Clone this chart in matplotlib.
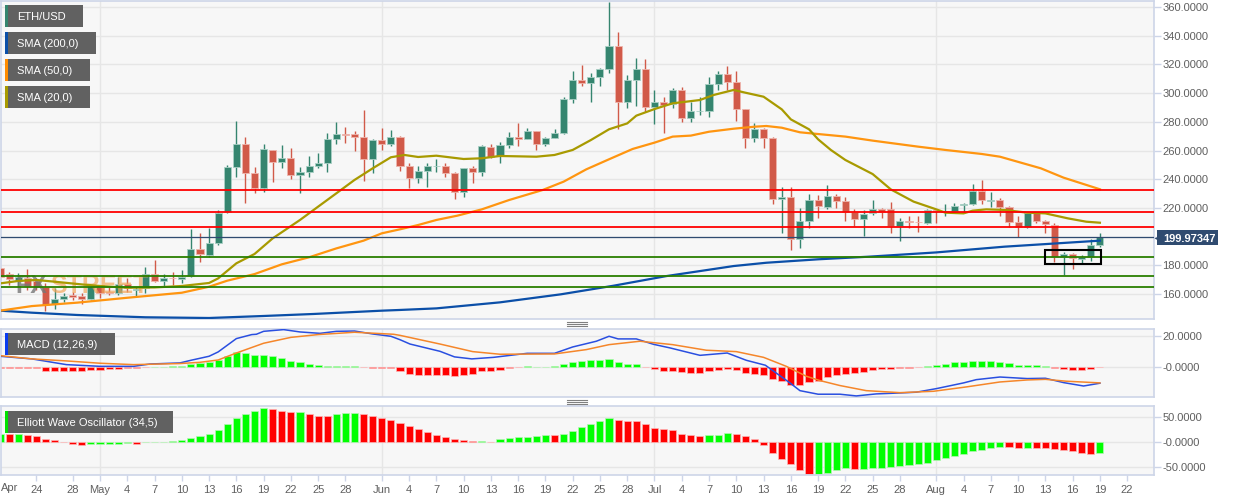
import numpy as np
import matplotlib
matplotlib.use('Agg')
import matplotlib.pyplot as plt
from matplotlib.patches import Rectangle
from matplotlib.lines import Line2D

plt.rcParams['font.family'] = ['Liberation Sans', 'DejaVu Sans']

W = 1244
H = 501

# day 0 = 1 May
first_day = -11

opens = [177.9,173.9,169.3,170.9,169.3,165.1,153.0,156.3,159.3,158.6,
         156.3,164.7,161.6,160.9,167.0,162.8,163.9,173.9,169.1,171.4,
         170.7,172.6,191.1,187.2,195.3,217.4,248.7,264.3,244.6,233.6,
         260.4,251.8,254.6,243.2,245.3,249.4,251.3,268.3,271.7,271.3,
         269.4,254.1,267.1,264.5,269.4,249.2,241.1,245.9,249.0,249.2,
         244.1,231.3,247.6,245.0,262.5,256.2,263.6,269.2,268.3,273.8,
         264.3,268.7,272.0,295.9,309.1,307.3,311.0,316.6,332.6,294.0,
         309.1,317.0,290.1,294.0,292.2,302.0,282.9,287.3,287.8,306.4,
         313.3,307.8,288.7,268.5,275.0,268.5,226.0,227.6,198.6,211.1,
         225.5,220.9,228.3,225.0,217.4,212.0,216.2,219.0,219.0,207.4,
         211.1,210.4,209.7,218.5,217.4,217.9,222.0,222.5,232.0,225.0,
         225.5,220.4,210.0,206.5,216.2,210.9,208.1,186.0,187.6,184.6,
         186.0,194.2]
highs = [179.0,175.6,174.4,177.2,170.9,167.4,164.0,160.9,161.6,160.5,
         166.3,166.3,165.1,171.6,170.9,165.1,178.6,183.7,173.9,175.6,
         176.7,205.1,202.3,206.2,218.5,249.9,280.6,269.2,248.3,264.3,
         260.4,263.9,261.5,248.3,256.2,258.5,272.0,279.6,276.6,273.8,
         288.2,267.8,275.5,274.3,270.1,251.1,249.2,251.1,253.9,251.1,
         245.3,248.0,249.2,263.6,264.3,265.7,273.1,278.9,275.5,273.8,
         269.2,274.8,297.1,315.4,319.4,313.8,317.3,363.3,342.4,312.4,
         324.2,323.6,302.2,297.1,303.3,304.0,294.0,297.5,311.0,315.4,
         318.9,315.2,288.7,278.9,275.5,269.2,234.8,234.3,219.7,229.5,
         229.0,236.0,229.5,227.8,219.0,218.5,225.5,219.7,223.9,212.7,
         214.6,214.6,219.0,219.0,222.7,223.2,223.6,236.7,239.5,230.9,
         226.7,221.3,214.6,216.7,216.9,211.6,209.3,189.5,188.3,187.2,
         198.3,202.3]
lows = [169.8,166.3,165.1,162.8,162.8,148.2,149.3,154.7,155.8,153.0,
        155.8,157.0,159.3,159.3,161.6,158.2,160.5,168.6,165.6,166.3,
        167.9,172.1,182.5,186.0,194.2,216.2,241.8,223.7,230.6,231.3,
        238.3,247.6,239.9,230.6,241.8,248.0,245.3,264.3,265.0,259.9,
        239.0,244.6,260.4,263.2,245.9,233.6,237.6,234.8,245.3,241.3,
        226.0,227.4,237.1,242.5,254.6,251.5,261.5,263.4,267.8,260.6,
        263.4,268.7,271.5,293.4,305.2,294.0,305.2,313.8,274.8,289.9,
        291.0,286.6,278.2,272.0,289.4,280.1,280.1,285.0,283.6,302.2,
        302.2,280.8,261.5,266.2,261.5,222.5,202.3,190.7,191.8,205.8,
        212.7,219.2,219.7,211.1,207.4,200.7,215.1,212.7,202.3,197.2,
        205.8,203.5,208.8,209.7,214.6,217.2,216.2,222.0,222.5,220.4,
        214.6,206.9,200.0,205.8,209.3,202.7,182.5,173.0,177.7,181.4,
        183.0,192.5]
closes = [172.1,170.2,172.1,165.6,165.1,152.3,156.3,158.6,157.7,156.3,
          165.6,161.0,160.7,167.0,164.0,163.7,173.9,169.1,171.2,170.9,
          172.1,191.1,187.9,195.3,216.7,248.7,264.3,244.6,233.6,260.8,
          251.8,254.6,243.2,245.3,249.4,251.3,268.3,271.5,271.0,269.4,
          254.1,267.1,264.5,269.2,249.4,240.9,245.7,249.2,249.4,244.3,
          231.3,247.6,245.0,263.2,255.7,263.6,269.2,268.3,273.8,264.3,
          268.7,272.0,295.9,309.1,307.3,311.0,316.6,332.6,294.0,309.1,
          317.0,290.1,294.0,291.7,302.0,282.9,287.5,287.8,306.4,313.3,
          308.0,288.7,268.5,275.0,268.5,226.0,227.6,198.6,210.9,225.5,
          221.3,228.3,225.0,217.4,212.0,215.8,219.0,217.4,207.4,210.9,
          210.4,210.0,218.5,217.9,218.1,221.6,222.7,232.0,225.5,225.5,
          220.4,210.0,206.5,216.2,211.1,208.8,186.0,187.6,184.9,185.6,
          194.2,199.97]

sma20_days = [-11,-9,-7,-5,-2,0,3,6,9,12,13,15,17,19,22,24,26.5,28,30,32,33.5,35,37,40,42,44,48,50,52,54,56,58,59,61,63,66,67.5,69.7,71,73,75,76,78,79,80.4,82,85,87,89.5,92,93,95,96,97.5,99.5,102,104,106.5,108.5,110]
sma20 = [167.4,169.1,169.8,168.6,166.7,165.6,164.4,164.6,165.6,167.7,170.9,181.4,187.9,198.8,211.6,220.9,232.5,239.5,247.6,255.3,256.9,255.5,256.4,254.1,254.6,256.2,255.7,256.9,260.4,267.3,274.8,278.9,284.3,288.9,292.9,295.2,298.7,302.2,300.3,297.5,288.7,281.7,274.8,267.8,260.4,253.4,243.6,232.9,224.4,219.0,216.7,216.2,218.1,219.0,218.6,216.7,216.2,212.7,210.4,209.7]

sma50_days = [-11,-7.5,-2.5,3,9,12,14,17,20,23,26,29,31,33,35,37,39.3,42,45,48.7,51,53.5,56,58.6,61,63,65,67,69.7,72,73.3,75,77,79,82,85,90,93,97,99,103.5,106,110]
sma50 = [148.4,151.6,154.0,157.4,160.9,165.1,169.3,173.9,180.7,185.6,191.8,197.2,202.3,205.1,208.1,211.6,214.6,219.0,225.5,232.5,238.3,246.9,253.9,261.1,265.5,269.7,270.4,273.1,275.2,276.6,277.1,275.9,272.7,271.5,269.7,266.9,262.7,260.4,257.6,255.7,247.6,241.1,233.0]

sma200_days = [-11,-7.5,-2.5,5,12,18,23.5,31,33,37,44,50.7,56.5,62.3,69.7,73.3,79,84.5,92,99.5,110]
sma200 = [148.4,147.0,145.4,143.8,143.3,144.7,146.1,148.4,148.9,150.0,154.2,159.8,165.8,172.5,179.5,181.8,184.2,186.0,189.0,193.0,197.2]

resistance = [232.5, 217.4, 206.7]
support = [185.8, 172.6, 164.9]
last_price = 199.97347

macd_hist = [-0.5,-0.6,-0.6,-0.7,-1.0,-2.5,-2.9,-2.9,-2.9,-2.9,
             -2.2,-1.7,-1.5,-1.2,-0.9,-0.7,-0.3,0.1,0.2,0.4,
             0.6,2.0,2.6,3.0,4.7,7.3,9.7,9.2,7.5,8.0,
             6.9,5.8,4.1,3.0,1.9,1.1,0.8,0.9,0.9,0.5,
             -0.2,-0.5,-0.8,-1.0,-2.8,-4.3,-4.9,-4.9,-4.9,-4.9,
             -6.0,-4.9,-4.5,-2.8,-2.4,-1.7,-0.9,-0.2,0.9,0.1,
             0.2,0.3,1.9,3.4,4.1,4.5,4.7,5.4,3.0,2.1,
             1.9,-0.3,-1.5,-2.4,-2.4,-3.4,-3.9,-4.1,-2.8,-1.7,
             -1.3,-2.1,-4.1,-4.5,-4.9,-8.0,-9.2,-11.4,-11.4,-9.9,
             -8.8,-6.7,-5.4,-4.5,-3.9,-3.0,-1.9,-1.3,-1.1,-0.9,
             -0.4,-0.1,0.6,1.5,2.1,3.0,3.2,4.1,4.1,4.1,
             3.4,2.4,1.5,1.5,1.3,0.9,-0.4,-1.1,-1.7,-1.7,
             -1.1,-0.2]

macd_days = [-11,-7.5,-3.7,0,3.7,5.5,8.8,10,12,13,15,16.7,17.2,18,20.2,22,24.2,26,28,30,32,33,34.1,37.4,39,40.9,43.3,47,50,52,54.6,56,57,59,60.9,62.7,66,69,71.1,73.2,75.9,77,79,81.4,83.2,85.4,88,89.8,92,95,96.4,99,102,104,106,108.2,110]
macd_line = [6.9,5.2,1.5,0.4,0.4,1.9,2.6,4.3,6.9,9.7,18.3,20.9,21.1,23.0,24.1,22.6,21.7,23.0,23.2,21.3,19.8,17.6,14.8,10.1,6.5,5.2,6.2,8.8,8.8,12.9,16.6,19.8,18.1,18.1,14.6,12.3,7.5,9.0,4.3,1.1,-10.3,-15.3,-17.6,-17.6,-18.7,-17.4,-16.8,-16.3,-14.0,-10.3,-8.2,-6.5,-7.5,-7.3,-10.1,-12.3,-10.5]

signal_days = [-11,-7.5,-3.7,0,3.7,8.8,11,13,15,18,21,24,28,32.3,33,37.4,41,44,50,53.5,56,59.4,63,66.7,70,73,75.5,77.7,79.2,81.4,84.3,88,91.7,95.3,99,102,104,106.3,110]
signal_line = [7.3,5.2,3.9,2.4,1.5,2.2,3.0,4.5,9.0,15.3,19.1,20.9,22.4,21.1,20.4,14.8,9.9,8.2,8.4,11.2,14.4,16.6,14.4,10.8,9.9,6.2,0.4,-6.0,-8.8,-12.0,-15.3,-16.6,-15.7,-12.9,-9.7,-8.4,-8.0,-9.2,-10.3]

ewo = [16.7,16.6,16.7,14.7,12.0,7.3,4.0,0.2,-2.7,-5.3,
       -3.3,-3.3,-3.0,-2.7,-2.0,-2.7,0.2,0.7,1.3,2.0,
       4.7,8.7,12.0,16.0,24.0,36.7,48.7,57.4,63.4,68.7,
       66.7,62.7,60.0,60.7,56.0,53.4,53.3,56.0,58.0,58.7,
       56.0,52.7,48.7,44.7,38.0,32.7,26.7,20.7,14.7,10.7,
       7.3,5.3,2.0,2.2,1.5,6.0,8.0,10.7,11.3,12.7,
       14.0,13.9,16.7,22.7,30.0,36.7,43.4,48.0,44.0,42.7,
       42.6,36.7,28.7,26.7,24.0,16.7,15.3,13.3,14.7,14.7,
       18.0,17.3,12.7,6.0,-4.7,-20.7,-32.7,-44.0,-56.0,-63.4,
       -62.7,-60.7,-54.7,-51.4,-52.7,-52.7,-52.0,-50.7,-49.4,-46.7,
       -44.7,-43.4,-41.4,-36.0,-32.0,-27.4,-22.7,-18.0,-14.7,-10.7,
       -9.3,-9.4,-12.0,-11.3,-11.4,-11.5,-13.3,-14.7,-18.0,-22.0,
       -24.0,-21.3]

tick_days = [-7,-3,0,3,6,9,12,15,18,21,24,27,31,34,37,40,43,46,49,52,55,58,61,64,67,70,73,76,79,82,85,88,92,95,98,101,104,107,110,113]
tick_labels = ['24','28','May','4','7','10','13','16','19','22','25','28','Jun','4','7','10','13','16','19','22','25','28','Jul','4','7','10','13','16','19','22','25','28','Aug','4','7','10','13','16','19','22']
month_days = [0, 31, 61, 92]

price_ticks = [160,180,200,220,240,260,280,300,320,340,360]
macd_ticks = [20, 0]
ewo_ticks = [50, 0, -50]

GREEN = '#35856f'
RED = '#d15a49'
BORDER = '#cdd5e8'
GRID = '#e6e6e6'
TEXT = '#5f5f5f'
TAG = '#2f4b70'
FS = 8


def panel(top, bottom):
    ax = fig.add_axes([1/W, 1 - bottom/H, 1153/W, (bottom - top)/H])
    ax.set_facecolor('#f7f7f7')
    ax.set_xlim(-10.89, 115.95)
    for s in ax.spines.values():
        s.set_color(BORDER)
        s.set_linewidth(1.2)
    ax.yaxis.tick_right()
    ax.set_axisbelow(True)
    for d in month_days:
        ax.axvline(d, color=GRID, lw=1, zorder=0)
    ax.set_xticks([])
    return ax


def yticks(ax, ticks, hidden=()):
    ax.set_yticks(ticks)
    labs = []
    for t in ticks:
        if t in hidden:
            labs.append('')
        elif t == 0:
            labs.append('-0.0000')
        else:
            labs.append('%.4f' % t)
    ax.set_yticklabels(labs, fontsize=FS, color=TEXT, ha='left')
    ax.tick_params(axis='y', length=5, width=1, color=BORDER, pad=1)
    ax.grid(True, axis='y', color=GRID, lw=1)


def label(x0, y0, x1, y1, strip, txt):
    fig.add_artist(Rectangle((x0/W, 1 - y1/H), (x1 - x0)/W, (y1 - y0)/H, transform=fig.transFigure, fc='#616161', ec='none'))
    fig.add_artist(Rectangle((x0/W, 1 - y1/H), 3/W, (y1 - y0)/H, transform=fig.transFigure, fc=strip, ec='none'))
    fig.text(17/W, 1 - (y0 + y1)/2/H, txt, color='white', fontsize=FS, va='center_baseline', ha='left')


fig = plt.figure(figsize=(W/100, H/100), dpi=100, facecolor='white')

days = np.arange(first_day, first_day + len(closes))

# price panel
ax1 = panel(1, 319)
ax1.set_ylim(142.6, 364.2)
yticks(ax1, price_ticks, hidden=[200])

for d, o, h, l, c in zip(days, opens, highs, lows, closes):
    col = GREEN if c >= o else RED
    edge = '#a9cfc5' if c >= o else '#eeb5ad'
    ax1.vlines(d, l, h, color=col, lw=1.0, zorder=2)
    ax1.bar(d, max(abs(c - o), 0.4), bottom=min(o, c), width=0.78, color=col, edgecolor=edge, linewidth=0.6, zorder=3)

# watermark sits over the candles
narrow = ['Liberation Sans Narrow', 'Liberation Sans']
ax1.text(-9.35, 165.6, 'FX', fontsize=18, fontweight='bold', color='#777777', alpha=0.8, ha='left', va='center', family=narrow, zorder=3.5)
ax1.text(-5.5, 165.6, 'STREET', fontsize=18, fontweight='bold', color='#f2a65a', alpha=0.7, ha='left', va='center', family=narrow, zorder=3.5)

ax1.plot(sma200_days, sma200, color='#0b4fa8', lw=1.6, zorder=4)
ax1.plot(sma50_days, sma50, color='#ff9510', lw=1.6, zorder=4)
ax1.plot(sma20_days, sma20, color='#a89a00', lw=1.6, zorder=4)

for v in resistance:
    ax1.axhline(v, color='#ff0000', lw=1.3, zorder=5)
for v in support:
    ax1.axhline(v, color='#2a7f00', lw=1.3, zorder=5)
ax1.axhline(last_price, color=TAG, lw=0.9, zorder=5)

ax1.add_patch(Rectangle((104.0, 180.9), 6.1, 9.8, fc='none', ec='black', lw=1.5, zorder=6))

# last price tag
fig.add_artist(Rectangle((1157/W, 1 - 245/H), 61/W, 15/H, transform=fig.transFigure, fc=TAG, ec='none'))
fig.add_artist(Line2D([1156.5/W], [1 - 237.5/H], marker='<', ms=4.5, color=TAG, mec='none', transform=fig.transFigure))
fig.text(1163/W, 1 - 237.5/H, '%.5f' % last_price, color='white', fontsize=FS, fontweight='bold', ha='left', va='center_baseline')

# macd panel
ax2 = panel(329, 397)
ax2.set_ylim(-19.4, 24.5)
yticks(ax2, macd_ticks)
hist_cols = ['#00ff00' if v > 0 else '#ff0000' for v in macd_hist]
hist_edges = ['#b5f5b5' if v > 0 else '#ffb5b5' for v in macd_hist]
ax2.bar(days, macd_hist, width=0.78, color=hist_cols, edgecolor=hist_edges, linewidth=0.5, zorder=2)
ax2.plot(macd_days, macd_line, color='#2a4fe0', lw=1.1, zorder=3)
ax2.plot(signal_days, signal_line, color='#f5862a', lw=1.1, zorder=3)

# elliott wave panel
ax3 = panel(406, 475)
ax3.set_ylim(-65.4, 72.6)
yticks(ax3, ewo_ticks)
ewo_cols = []
ewo_edges = []
prev = None
for v in ewo:
    up = prev is None or v >= prev
    ewo_cols.append('#00ff00' if up else '#ff0000')
    ewo_edges.append('#b5f5b5' if up else '#ffb5b5')
    prev = v
ax3.bar(days, ewo, width=0.78, color=ewo_cols, edgecolor=ewo_edges, linewidth=0.5, zorder=2)
ax3.set_xticks(tick_days)
ax3.set_xticklabels(tick_labels, fontsize=FS, color=TEXT)
ax3.tick_params(axis='x', length=4, width=1, color=BORDER, pad=3)
fig.text(1/W, 1 - 488/H, 'Apr', fontsize=FS, color=TEXT, ha='left', va='center')

# drag handles between the panels
for yc in (324, 402):
    for dy in (-2, 0, 2):
        fig.add_artist(Line2D([567/W, 587/W], [1 - (yc + dy)/H]*2, color='#808080', lw=0.8, transform=fig.transFigure))

label(5, 5, 83, 27, GREEN, 'ETH/USD')
label(5, 32, 96, 54, '#0b4fa8', 'SMA (200,0)')
label(5, 59, 90, 81, '#ff8c00', 'SMA (50,0)')
label(5, 86, 90, 108, '#a89a00', 'SMA (20,0)')
label(5, 333, 115, 355, '#0a3cf0', 'MACD (12,26,9)')
label(5, 411, 173, 433, '#00e000', 'Elliott Wave Oscillator (34,5)')

fig.savefig('out.png', dpi=100)
